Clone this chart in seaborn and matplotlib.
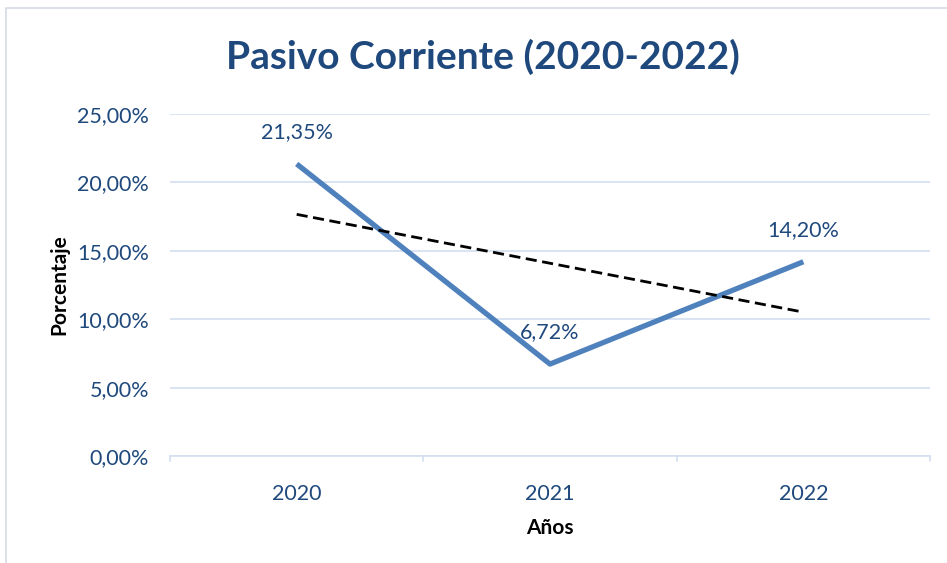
import matplotlib
matplotlib.use('Agg')
import matplotlib.pyplot as plt
import numpy as np
import pandas as pd
import seaborn as sns
from matplotlib.patches import Rectangle

years = ['2020', '2021', '2022']
pasivo = [21.35, 6.72, 14.20]
y_ticks = [0, 5, 10, 15, 20, 25]

df = pd.DataFrame({'Año': years, 'Pct': pasivo, 'pos': range(len(years))})

sns.set_theme(style='white')
plt.rcParams['font.family'] = ['Lato', 'DejaVu Sans']

blue_dark = '#1F497D'
blue_line = '#4F81BD'

fig = plt.figure(figsize=(9.47, 5.63), dpi=100)
ax = fig.add_axes([170 / 947, 1 - 456 / 563, 760 / 947, 342 / 563])

# frame around the chart
fig.patches.append(Rectangle((6 / 947, -0.05), 1.0, 1 - 8 / 563 + 0.05,
                             transform=fig.transFigure, fill=False,
                             edgecolor='#D6DCE5', linewidth=1.2))

sns.lineplot(data=df, x='pos', y='Pct', ax=ax, color=blue_line, linewidth=3.8,
             solid_capstyle='butt')

# linear trend line
coef = np.polyfit(df['pos'], df['Pct'], 1)
trend = np.polyval(coef, df['pos'])
sns.lineplot(x=df['pos'], y=trend, ax=ax, color='black', linewidth=2,
             linestyle=(0, (4, 2)))

for i, v in enumerate(pasivo):
    ax.annotate(f'{v:.2f}%'.replace('.', ','), (i, v), xytext=(0, 23),
                textcoords='offset points', ha='center', va='center',
                fontsize=15.5, color=blue_dark)

ax.set_xlim(-0.5, 2.5)
ax.set_ylim(0, 25)
ax.set_xticks(range(len(years)))
ax.set_xticklabels(years)
ax.set_yticks(y_ticks)
ax.set_yticklabels([f'{t:.2f}%'.replace('.', ',') for t in y_ticks])
ax.tick_params(axis='both', colors=blue_dark, labelsize=15.5, length=0)
ax.tick_params(axis='x', pad=20)
ax.tick_params(axis='y', pad=15)

ax.grid(axis='y', color='#D5E0F0', linewidth=1.3)
for s in ['top', 'right', 'left']:
    ax.spines[s].set_visible(False)
ax.spines['bottom'].set_color('#D5E0F0')
ax.spines['bottom'].set_linewidth(1.3)
for xb in [-0.5, 0.5, 1.5, 2.5]:
    ax.plot([xb, xb], [0, -0.35], color='#D5E0F0', linewidth=1.3, clip_on=False)

ax.set_xlabel('Años', fontsize=15, fontweight='bold', color='black', labelpad=10)
ax.set_ylabel('Porcentaje', fontsize=15, fontweight='bold', color='black', labelpad=6)

fig.text(483 / 947, 1 - 57 / 563, 'Pasivo Corriente (2020-2022)', ha='center',
         va='center', fontsize=28, fontweight='bold', color=blue_dark)

fig.savefig('out.png', dpi=100)
